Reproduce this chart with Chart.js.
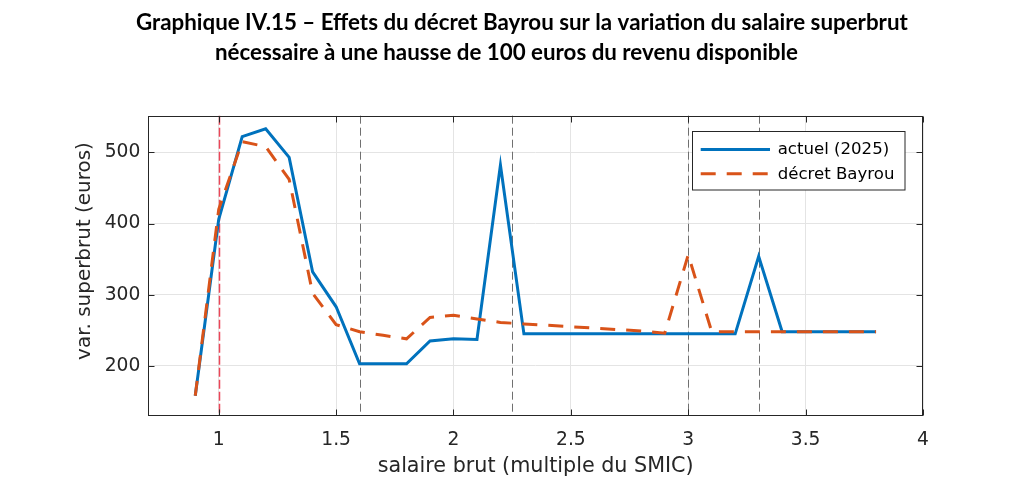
<!DOCTYPE html>
<html>
<head>
<meta charset="utf-8">
<script src="https://cdn.jsdelivr.net/npm/chart.js@4.4.0/dist/chart.umd.min.js"></script>
<style>
html,body{margin:0;padding:0;background:#fff;overflow:hidden}
canvas{display:block}
</style>
</head>
<body>
<canvas id="c" width="1035" height="497" style="width:1035px;height:497px"></canvas>
<script>
// ---- data ----
const salaire = [0.9,1.0,1.1,1.2,1.3,1.4,1.5,1.6,1.7,1.8,1.9,2.0,2.1,2.2,2.3,2.4,2.5,2.6,2.7,2.8,2.9,3.0,3.1,3.2,3.3,3.4,3.5,3.6,3.7,3.8];
const actuel  = [158,406,522,533,493,332,283,203,203,203,235,238,237,482,245,245,245,245,245,245,245,245,245,245,354,248,248,248,248,248];
const bayrou  = [158,420,515,508,462,302,258,248,243,238,268,271,266,261,259,257,255,253,251,249,246,356,248,248,248,248,248,248,248,248];
const xTicks = [1,1.5,2,2.5,3,3.5,4];
const yTicks = [200,300,400,500];
const refLines = [1,1.6,2.25,3,3.3];
const refColors = ['#ec4658','#707070','#707070','#707070','#707070'];
const seriesNames = ['actuel (2025)','décret Bayrou'];
const titleLines = ['Graphique IV.15 – Effets du décret Bayrou sur la variation du salaire superbrut',
                    'nécessaire à une hausse de 100 euros du revenu disponible'];
const xTitle = 'salaire brut (multiple du SMIC)';
const yTitle = 'var. superbrut (euros)';

// ---- font fitting helpers ----
const mctx = document.createElement('canvas').getContext('2d');
function fitSize(text, family, weight, target){
  mctx.font = weight + ' 100px ' + family;
  return 100 * target / mctx.measureText(text).width;
}
const SANS = '"DejaVu Sans"';
const TFONT = 'Lato';
const tickSize = fitSize('500', SANS, 'normal', 35.7);
const xTitleSize = fitSize(xTitle, SANS, 'normal', 316);
const yTitleSize = fitSize(yTitle, SANS, 'normal', 218);
const legSize = fitSize(seriesNames[0], SANS, 'normal', 111.6);
const titleSize = fitSize(titleLines[0], TFONT, 'bold', 772);

const TEXT = '#262626';
const BLUE = '#0072BD';
const ORANGE = '#D95319';
const DASH = [15,11];

const AREA = {left:148.3, right:923, top:115.7, bottom:415.7};
const xTitleLH = xTitleSize * 1.2;
const xAxisBottom = 467 + xTitleLH/2;

const decor = {
  id:'decor',
  beforeDatasetsDraw(chart){
    const {ctx, chartArea:a, scales:{x}} = chart;
    ctx.save();
    refLines.forEach((v,i)=>{
      const px = Math.round(x.getPixelForValue(v)) + 0.5;
      ctx.strokeStyle = refColors[i];
      ctx.lineWidth = i === 0 ? 1.5 : 1;
      ctx.setLineDash(i === 0 ? [9,3] : [8,4]);
      ctx.beginPath(); ctx.moveTo(px, a.top); ctx.lineTo(px, a.bottom); ctx.stroke();
    });
    ctx.restore();
  },
  afterDatasetsDraw(chart){
    const {ctx, chartArea:a, scales:{x,y}} = chart;
    ctx.save();
    ctx.strokeStyle = TEXT; ctx.lineWidth = 1; ctx.setLineDash([]);
    const L = Math.round(a.left)+0.5, R = Math.round(a.right)-0.5, T = Math.round(a.top)+0.5, B = Math.round(a.bottom)-0.5;
    ctx.strokeRect(L, T, R-L, B-T);
    const tl = 6;
    ctx.beginPath();
    xTicks.forEach(v=>{
      const px = Math.round(x.getPixelForValue(v))+0.5;
      ctx.moveTo(px,B); ctx.lineTo(px,B-tl);
      ctx.moveTo(px,T); ctx.lineTo(px,T+tl);
    });
    yTicks.forEach(v=>{
      const py = Math.round(y.getPixelForValue(v))+0.5;
      ctx.moveTo(L,py); ctx.lineTo(L+tl,py);
      ctx.moveTo(R,py); ctx.lineTo(R-tl,py);
    });
    ctx.stroke();
    ctx.restore();
  },
  afterDraw(chart){
    const {ctx} = chart;
    ctx.save();
    // title
    ctx.fillStyle = '#000';
    ctx.font = 'bold ' + titleSize + 'px ' + TFONT;
    ctx.textAlign = 'left'; ctx.textBaseline = 'alphabetic';
    ctx.fillText(titleLines[0], 136, 30);
    ctx.fillText(titleLines[1], 215, 60);
    // y title
    ctx.fillStyle = TEXT;
    ctx.font = yTitleSize + 'px ' + SANS;
    ctx.translate(90, 251);
    ctx.rotate(-Math.PI/2);
    ctx.textAlign = 'center'; ctx.textBaseline = 'alphabetic';
    ctx.fillText(yTitle, 0, 0);
    ctx.restore();
    // legend
    ctx.save();
    ctx.fillStyle = '#fff';
    ctx.fillRect(692.5, 131.5, 212.5, 58.5);
    ctx.strokeStyle = TEXT; ctx.lineWidth = 1;
    ctx.strokeRect(692.5, 131.5, 212.5, 58.5);
    ctx.lineWidth = 3;
    ctx.strokeStyle = BLUE; ctx.setLineDash([]);
    ctx.beginPath(); ctx.moveTo(700.7,149.5); ctx.lineTo(770,149.5); ctx.stroke();
    ctx.strokeStyle = ORANGE; ctx.setLineDash(DASH);
    ctx.beginPath(); ctx.moveTo(700.7,173.8); ctx.lineTo(770,173.8); ctx.stroke();
    ctx.setLineDash([]);
    ctx.fillStyle = '#000';
    ctx.font = legSize + 'px ' + SANS;
    ctx.textAlign = 'left'; ctx.textBaseline = 'middle';
    ctx.fillText(seriesNames[0], 777.7, 150);
    ctx.fillText(seriesNames[1], 777.7, 174.3);
    ctx.restore();
  }
};

new Chart(document.getElementById('c'), {
  type:'line',
  data:{
    datasets:[
      {label:seriesNames[0], data:salaire.map((v,i)=>({x:v,y:actuel[i]})), borderColor:BLUE, borderWidth:3,
       pointRadius:0, tension:0, fill:false, order:1, borderJoinStyle:'miter', borderCapStyle:'butt'},
      {label:seriesNames[1], data:salaire.map((v,i)=>({x:v,y:bayrou[i]})), borderColor:ORANGE, borderWidth:3,
       borderDash:DASH, pointRadius:0, tension:0, fill:false, order:0, borderJoinStyle:'miter', borderCapStyle:'butt'}
    ]
  },
  options:{
    responsive:false, animation:false,
    layout:{padding:{top:AREA.top, right:1035-AREA.right, bottom:497-xAxisBottom, left:0}},
    plugins:{legend:{display:false}, tooltip:{enabled:false}, title:{display:false}},
    scales:{
      x:{type:'linear', min:0.7, max:4,
         afterBuildTicks:s=>{s.ticks = xTicks.map(v=>({value:v}));},
         afterFit:s=>{s.height = xAxisBottom - AREA.bottom;},
         ticks:{font:{family:'DejaVu Sans', size:tickSize}, color:TEXT, padding:13, maxRotation:0, autoSkip:false,
                callback:v=>String(v)},
         grid:{color:'#e4e4e4', lineWidth:1, drawTicks:false},
         border:{display:false},
         title:{display:true, text:xTitle, color:TEXT, padding:0, font:{family:'DejaVu Sans', size:xTitleSize}}
      },
      y:{type:'linear', min:130, max:551.5,
         afterBuildTicks:s=>{s.ticks = yTicks.map(v=>({value:v}));},
         afterFit:s=>{s.width = AREA.left;},
         ticks:{font:{family:'DejaVu Sans', size:tickSize}, color:TEXT, padding:8, autoSkip:false,
                callback:v=>String(v)},
         grid:{color:'#e4e4e4', lineWidth:1, drawTicks:false},
         border:{display:false}
      }
    }
  },
  plugins:[decor]
});
</script>
</body>
</html>
